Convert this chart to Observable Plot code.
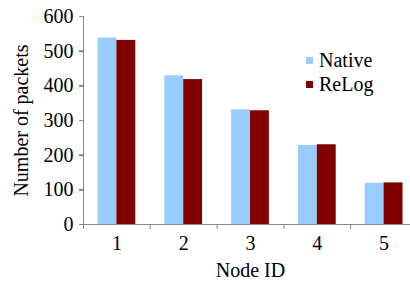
<!DOCTYPE html>
<html><head><meta charset="utf-8">
<script src="https://cdn.jsdelivr.net/npm/d3@7"></script>
<script src="https://cdn.jsdelivr.net/npm/@observablehq/plot@0.6"></script>
<style>
body{margin:0;background:#fff;}
#chart{position:relative;width:410px;height:284px;overflow:hidden;font-family:"Liberation Serif",serif;}
.legend{position:absolute;left:306px;top:48px;font-size:20px;line-height:24px;color:#000;}
.legend .item{display:flex;align-items:center;}
.legend .sw{width:7px;height:7px;margin-right:6px;}
</style></head><body><div id="chart"></div>
<script>
const nodes = [1, 2, 3, 4, 5];
const nativePackets = [538, 429, 331, 228, 119];
const relogPackets = [531, 418, 328, 230, 120];
const seriesNames = ["Native", "ReLog"];
const seriesColors = ["#99ccff", "#800000"];
const yTicks = [0, 100, 200, 300, 400, 500, 600];

const seriesValues = [nativePackets, relogPackets];
const rows = nodes.flatMap((n, i) => seriesNames.map((s, k) => ({node: n, series: s, k, value: seriesValues[k][i]})));
const bounds = [nodes[0] - 0.5, ...nodes.map(n => n + 0.5)];
const barW = 0.283;

const plot = Plot.plot({
  width: 410,
  height: 284,
  marginLeft: 83,
  marginRight: -7,
  marginTop: 16,
  marginBottom: 60,
  style: {fontSize: "20px", fontFamily: "Liberation Serif, serif", color: "#000", background: "#fff"},
  x: {domain: [bounds[0], bounds[bounds.length - 1]]},
  y: {domain: [0, 600]},
  color: {domain: seriesNames, range: seriesColors},
  marks: [
    Plot.rectY(rows, {x1: d => d.node + (d.k - 1) * barW, x2: d => d.node + d.k * barW, y: "value", fill: "series"}),
    Plot.axisY({ticks: yTicks, tickSize: 4, tickPadding: 6, label: "Number of packets", labelAnchor: "center", labelOffset: 70, labelArrow: "none", color: "#000"}),
    Plot.axisY({ticks: yTicks, tickSize: 4, tickFormat: () => "", label: null, color: "#888"}),
    Plot.axisX({ticks: nodes, tickSize: 0, tickPadding: 11, tickFormat: d => String(d), label: "Node ID", labelAnchor: "center", labelOffset: 52, labelArrow: "none", color: "#000"}),
    Plot.axisX({ticks: bounds, tickSize: 5, tickFormat: () => "", label: null, color: "#888"}),
    Plot.ruleX([bounds[0]], {stroke: "#888"}),
    Plot.ruleY([0], {stroke: "#888"})
  ]
});
const chart = document.getElementById("chart");
chart.appendChild(plot);
const legend = document.createElement("div");
legend.className = "legend";
seriesNames.forEach((s, i) => {
  const item = document.createElement("div");
  item.className = "item";
  const sw = document.createElement("span");
  sw.className = "sw";
  sw.style.background = seriesColors[i];
  const t = document.createElement("span");
  t.textContent = s;
  item.appendChild(sw); item.appendChild(t);
  legend.appendChild(item);
});
chart.appendChild(legend);
</script></body></html>
